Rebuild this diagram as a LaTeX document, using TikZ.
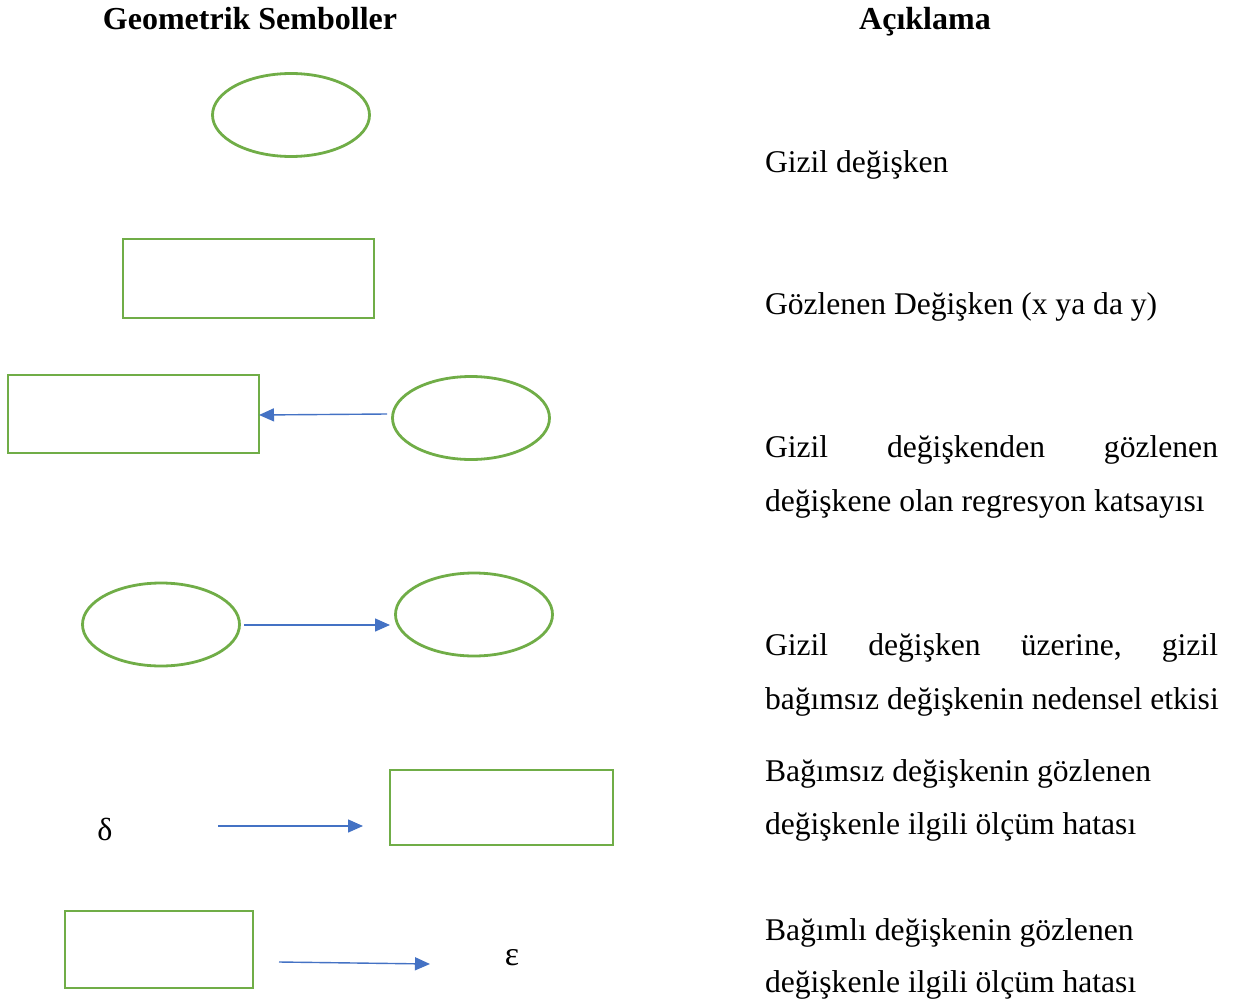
\documentclass[tikz,border=0pt]{standalone}
\usepackage{fontspec}
\setmainfont{Liberation Serif}
\usetikzlibrary{arrows.meta,shapes.geometric}
\definecolor{shapegreen}{HTML}{70AD47}
\definecolor{arrowblue}{HTML}{4472C4}
\begin{document}
\begin{tikzpicture}[x=1pt,y=-1pt,
  every node/.style={inner sep=0pt,outer sep=0pt},
  oval/.style={draw=shapegreen,line width=2.8pt,ellipse,minimum width=#1,minimum height=83pt},
  oval/.default=157pt,
  box/.style={draw=shapegreen,line width=2.8pt,rectangle},
  link/.style={draw=arrowblue,line width=1.4pt,-{Triangle[length=15pt,width=13pt]}},
  head/.style={font=\fontsize{32}{38}\selectfont\bfseries,anchor=base},
  desc/.style={font=\fontsize{31.6}{38}\selectfont,anchor=base west},
  greek/.style={font=\fontsize{32}{38}\selectfont}]
\useasboundingbox (0,0) rectangle (1233,1003);

% column headings
\node[head] (h1) at (250,30) {Geometrik Semboller};
\node[head] (h2) at (925,30) {Açıklama};

% latent variable
\node[oval] (e1) at (291,115) {};
% observed variable
\node[box,minimum width=251pt,minimum height=79pt] (r2) at (248.5,278.5) {};

% loading: latent -> observed
\node[box,minimum width=251pt,minimum height=78pt] (r3) at (133.5,414) {};
\node[oval] (e3) at (471,418) {};
\coordinate (a3s) at (387,414);
\draw[link] (a3s) -- (r3.east |- 0,415);

% structural path: latent -> latent
\node[oval] (e4a) at (161,624.5) {};
\node[oval] (e4b) at (474,614.5) {};
\coordinate (a4s) at (244,625);
\coordinate (a4e) at (390,625);
\draw[link] (a4s) -- (a4e);

% measurement error of an independent indicator
\node[greek] (delta) at (105,829) {δ};
\node[box,minimum width=223pt,minimum height=75pt] (r5) at (501.5,807.5) {};
\coordinate (a5s) at (218,826);
\coordinate (a5e) at (363,826);
\draw[link] (a5s) -- (a5e);

% measurement error of a dependent indicator
\node[box,minimum width=188pt,minimum height=77pt] (r6) at (159,949.5) {};
\node[greek,font=\fontsize{34}{40}\selectfont] (eps) at (512,958) {ε};
\coordinate (a6s) at (279,962);
\coordinate (a6e) at (430,964);
\draw[link] (a6s) -- (a6e);

% descriptions
\node[desc] (t1) at (765,172) {Gizil değişken};
\node[desc] (t2) at (765,314) {Gözlenen Değişken (x ya da y)};
\node[desc] (t3a) at (765,457) {\makebox[453pt][s]{Gizil\hfill değişkenden\hfill gözlenen}};
\node[desc] (t3b) at (765,511) {değişkene olan regresyon katsayısı};
\node[desc] (t4a) at (765,655) {\makebox[453pt][s]{Gizil\hfill değişken\hfill üzerine,\hfill gizil}};
\node[desc] (t4b) at (765,709) {bağımsız değişkenin nedensel etkisi};
\node[desc] (t5a) at (765,781) {Bağımsız değişkenin gözlenen};
\node[desc] (t5b) at (765,834) {değişkenle ilgili ölçüm hatası};
\node[desc] (t6a) at (765,940) {Bağımlı değişkenin gözlenen};
\node[desc] (t6b) at (765,992) {değişkenle ilgili ölçüm hatası};
\end{tikzpicture}
\end{document}
